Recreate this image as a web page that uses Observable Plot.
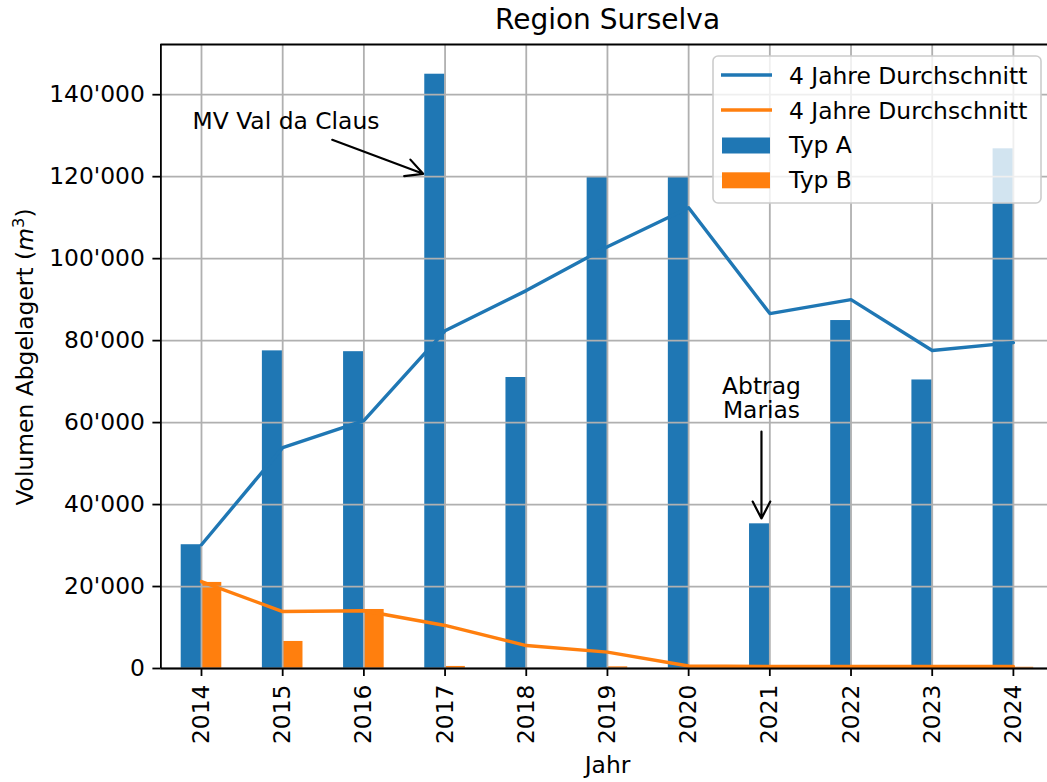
<!DOCTYPE html>
<html>
<head>
<meta charset="utf-8">
<script src="https://cdn.jsdelivr.net/npm/d3@7"></script>
<script src="https://cdn.jsdelivr.net/npm/@observablehq/plot@0.6"></script>
<style>
  html, body { margin: 0; padding: 0; background: white; overflow: hidden; }
  svg { display: block; }
</style>
</head>
<body>
<div id="chart"></div>
<script>
// ---- data ----
const years = ["2014", "2015", "2016", "2017", "2018", "2019", "2020", "2021", "2022", "2023", "2024"];
const typA  = [30200, 77500, 77300, 145000, 71000, 119800, 119800, 35300, 84900, 70400, 126800];
const typB  = [21000, 6600, 14400, 500, 0, 400, 0, 0, 0, 0, 300];
const avgA  = [30200, 53900, 60500, 82400, 92200, 102900, 112400, 86600, 90000, 77600, 79500];
const avgB  = [21200, 13900, 14100, 10500, 5600, 4000, 600, 500, 500, 500, 500];
const yTicks = [0, 20000, 40000, 60000, 80000, 100000, 120000, 140000];
const seriesNames = ["4 Jahre Durchschnitt", "4 Jahre Durchschnitt", "Typ A", "Typ B"];
const title = "Region Surselva";
const xLabel = "Jahr";
// annotations in data units (x = year index)
const notes = [
  {text: "MV Val da Claus", tx: -0.11, ty: 131700, anchor: "start", x1: 1.61, y1: 129000, x2: 2.73, y2: 120700},
  {text: "Abtrag\nMarias", tx: 6.897, ty: 61200, anchor: "middle", x1: 6.897, y1: 57800, x2: 6.897, y2: 36600}
];

const blue = "#1f77b4", orange = "#ff7f0e";
const idx = d3.range(years.length);
const fmt = d3.formatLocale({decimal: ".", thousands: "'", grouping: [3], currency: ["", ""]}).format(",");
const FS = 23.4;

const plot = Plot.plot({
  width: 1047,
  height: 782,
  marginTop: 44,
  marginBottom: 114,
  marginLeft: 160.4,
  marginRight: 0,
  x: {type: "linear", domain: [-0.5, 10.42], axis: null},
  y: {domain: [0, 152250], axis: null},
  style: {fontFamily: "DejaVu Sans", fontSize: FS + "px", background: "white", color: "black"},
  marks: [
    Plot.rect(idx, {x1: i => i - 0.25, x2: i => i, y1: () => 0, y2: i => typA[i], fill: blue}),
    Plot.rect(idx, {x1: i => i, x2: i => i + 0.25, y1: () => 0, y2: i => typB[i], fill: orange}),
    Plot.gridX(idx, {stroke: "#b0b0b0", strokeOpacity: 1, strokeWidth: 1.8}),
    Plot.gridY(yTicks, {stroke: "#b0b0b0", strokeOpacity: 1, strokeWidth: 1.8}),
    Plot.line(idx, {x: i => i, y: i => avgA[i], stroke: blue, strokeWidth: 3.4, strokeLinejoin: "round"}),
    Plot.line(idx, {x: i => i, y: i => avgB[i], stroke: orange, strokeWidth: 3.4, strokeLinejoin: "round"}),
    Plot.text(notes.filter(d => d.anchor === "start"), {x: "tx", y: "ty", text: "text", textAnchor: "start", lineAnchor: "bottom", lineHeight: 1.03, fontSize: FS, fill: "black"}),
    Plot.text(notes.filter(d => d.anchor === "middle"), {x: "tx", y: "ty", text: "text", textAnchor: "middle", lineAnchor: "bottom", lineHeight: 1.03, fontSize: FS, fill: "black"}),
    Plot.arrow(notes, {x1: "x1", y1: "y1", x2: "x2", y2: "y2", stroke: "black", strokeWidth: 2.2, headLength: 13, headAngle: 55}),
    Plot.ruleX([-0.5], {stroke: "black", strokeWidth: 1.8}),
    Plot.ruleY([0], {stroke: "black", strokeWidth: 1.8}),
    Plot.ruleY([152250], {stroke: "black", strokeWidth: 1.8}),
    Plot.axisX(idx, {tickFormat: i => years[i], tickRotate: -90, tickSize: 8, tickPadding: 8, strokeWidth: 1.8, fontSize: FS, label: null}),
    Plot.axisY(yTicks, {tickFormat: fmt, tickSize: 8, tickPadding: 8, strokeWidth: 1.8, fontSize: FS, label: null}),
    Plot.text([title], {frameAnchor: "top", dy: -16, dx: 3.3, lineAnchor: "bottom", fontSize: 28, fill: "black"}),
    Plot.text([xLabel], {frameAnchor: "bottom", dy: 104, dx: 3.3, lineAnchor: "bottom", fontSize: FS, fill: "black"})
  ]
});

document.getElementById("chart").appendChild(plot);

// y axis label with italic m and superscript 3
const svg = d3.select(plot);
const yl = svg.append("text")
  .attr("transform", "translate(33,357) rotate(-90)")
  .attr("text-anchor", "middle")
  .attr("font-family", "DejaVu Sans")
  .attr("font-size", FS)
  .attr("fill", "black");
yl.append("tspan").text("Volumen Abgelagert (");
yl.append("tspan").attr("font-style", "italic").text("m");
yl.append("tspan").attr("font-size", FS * 0.7).attr("dy", "-0.55em").text("3");
yl.append("tspan").attr("dy", "0.385em").text(")");

// legend (matplotlib-style, upper right, semi-transparent)
const lg = svg.append("g").attr("font-family", "DejaVu Sans").attr("font-size", FS).attr("text-anchor", "start");
lg.append("rect").attr("x", 713).attr("y", 56).attr("width", 328).attr("height", 147)
  .attr("rx", 5).attr("fill", "white").attr("fill-opacity", 0.8)
  .attr("stroke", "#cccccc").attr("stroke-width", 1.6);
const rows = [
  {kind: "line", color: blue, cy: 75, base: 84.3},
  {kind: "line", color: orange, cy: 110, base: 119.3},
  {kind: "rect", color: blue, cy: 145.5, base: 153.3},
  {kind: "rect", color: orange, cy: 180.3, base: 188.3}
];
rows.forEach((r, k) => {
  if (r.kind === "line") {
    lg.append("line").attr("x1", 721).attr("x2", 772).attr("y1", r.cy).attr("y2", r.cy)
      .attr("stroke", r.color).attr("stroke-width", 3.4);
  } else {
    lg.append("rect").attr("x", 722).attr("y", r.cy - 8).attr("width", 48).attr("height", 16).attr("fill", r.color);
  }
  lg.append("text").attr("x", 789).attr("y", r.base).attr("fill", "black").attr("text-anchor", "start").text(seriesNames[k]);
});
</script>
</body>
</html>
